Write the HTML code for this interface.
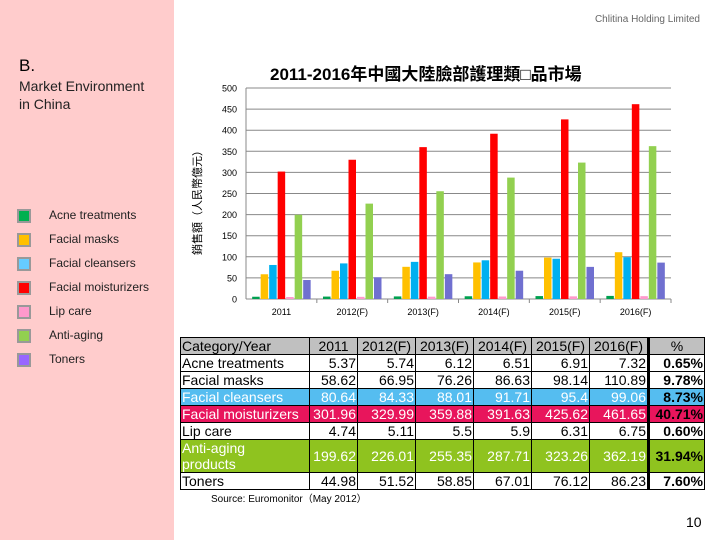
<!DOCTYPE html>
<html><head><meta charset="utf-8"><style>
body{margin:0;width:720px;height:540px;position:relative;background:#fff;font-family:"Liberation Sans","Noto Sans CJK TC",sans-serif;overflow:hidden}
.abs{position:absolute}
#left{left:0;top:0;width:174px;height:540px;background:#ffcccc}
.leg{position:absolute;left:17px;font-size:12px;color:#222}
.leg i{position:absolute;left:0;top:1px;width:10px;height:10px;border:2px solid #999}
.leg span{position:absolute;left:32px;top:0;white-space:nowrap}
table{position:absolute;left:180px;top:337px;border-collapse:collapse;font-size:14px;font-family:"Liberation Sans",sans-serif}
td{border:1px solid #000;padding:0 1px;height:16px;line-height:15px;text-align:right;white-space:nowrap}
td:first-child{text-align:left}
td.p{font-weight:bold;border-left:3px solid #000}
.hd td{background:#c0c0c0;text-align:center}
.hd td:first-child{text-align:left}
.cl td{background:#55bdf0;color:#fff}
.mo td{background:#e8155c;color:#fff}
.ag td{background:#8fc31f;color:#fff}
.cl td.p,.mo td.p,.ag td.p{color:#000}
</style></head><body>
<div id="left" class="abs"></div>
<div class="abs" style="right:20px;top:14px;font-size:10px;color:#666">Chlitina Holding Limited</div>
<div class="abs" style="left:19px;top:56px;font-size:17px">B.</div>
<div class="abs" style="left:19px;top:77px;font-size:14px;line-height:18px;color:#222">Market Environment<br>in China</div>
<div id="legend"></div>
<div class="abs" style="left:270px;top:60px;font-size:17px;font-weight:bold">2011-2016年中國大陸臉部護理類□品市場</div>
<div class="abs" style="left:117px;top:192px;width:160px;text-align:center;transform:rotate(-90deg);font-size:11px">銷售額（人民幣億元）</div>
<svg class="abs" style="left:0;top:0" width="720" height="330" id="chart"></svg>
<table>
<tr class="hd"><td style="width:126px">Category/Year</td><td style="width:45px">2011</td><td style="width:55px">2012(F)</td><td style="width:55px">2013(F)</td><td style="width:55px">2014(F)</td><td style="width:55px">2015(F)</td><td style="width:55px">2016(F)</td><td class="p" style="width:52px;font-weight:normal;text-align:center">%</td></tr>
<tr><td>Acne treatments</td><td>5.37</td><td>5.74</td><td>6.12</td><td>6.51</td><td>6.91</td><td>7.32</td><td class="p">0.65%</td></tr>
<tr><td>Facial masks</td><td>58.62</td><td>66.95</td><td>76.26</td><td>86.63</td><td>98.14</td><td>110.89</td><td class="p">9.78%</td></tr>
<tr class="cl"><td>Facial cleansers</td><td>80.64</td><td>84.33</td><td>88.01</td><td>91.71</td><td>95.4</td><td>99.06</td><td class="p">8.73%</td></tr>
<tr class="mo"><td>Facial moisturizers</td><td>301.96</td><td>329.99</td><td>359.88</td><td>391.63</td><td>425.62</td><td>461.65</td><td class="p">40.71%</td></tr>
<tr><td>Lip care</td><td>4.74</td><td>5.11</td><td>5.5</td><td>5.9</td><td>6.31</td><td>6.75</td><td class="p">0.60%</td></tr>
<tr class="ag"><td style="height:32px;line-height:16px">Anti-aging<br>products</td><td>199.62</td><td>226.01</td><td>255.35</td><td>287.71</td><td>323.26</td><td>362.19</td><td class="p">31.94%</td></tr>
<tr><td>Toners</td><td>44.98</td><td>51.52</td><td>58.85</td><td>67.01</td><td>76.12</td><td>86.23</td><td class="p">7.60%</td></tr>
</table>
<div class="abs" style="left:211px;top:490px;font-size:10px">Source: Euromonitor（May 2012）</div>
<div class="abs" style="left:686px;top:514px;font-size:14px">10</div>
<script>
const categories=["2011","2012(F)","2013(F)","2014(F)","2015(F)","2016(F)"];
const seriesNames=["Acne treatments","Facial masks","Facial cleansers","Facial moisturizers","Lip care","Anti-aging","Toners"];
const acne=[5.37,5.74,6.12,6.51,6.91,7.32];
const masks=[58.62,66.95,76.26,86.63,98.14,110.89];
const cleansers=[80.64,84.33,88.01,91.71,95.4,99.06];
const moisturizers=[301.96,329.99,359.88,391.63,425.62,461.65];
const lipcare=[4.74,5.11,5.5,5.9,6.31,6.75];
const antiaging=[199.62,226.01,255.35,287.71,323.26,362.19];
const toners=[44.98,51.52,58.85,67.01,76.12,86.23];
const yTicks=[0,50,100,150,200,250,300,350,400,450,500];
const series=[acne,masks,cleansers,moisturizers,lipcare,antiaging,toners];
const colors=["#00a050","#ffc000","#00b0f0","#ff0000","#ff99cc","#92d050","#7070d0"];
const legColors=["#00b050","#ffc000","#66ccff","#ff0000","#ff99cc","#92d050","#9966ff"];
const NS="http://www.w3.org/2000/svg";
const svg=document.getElementById('chart');
const x0=246,x1=671,y0=299,y1=88;
function Y(v){return y0-(v/500)*(y0-y1);}
const gw=(x1-x0)/categories.length;
function add(tag,a){const e=document.createElementNS(NS,tag);for(const k in a)e.setAttribute(k,a[k]);svg.appendChild(e);return e;}
yTicks.forEach(t=>{
 const l=add('line',{x1:x0,x2:x1,y1:Y(t),y2:Y(t),stroke:'#888','stroke-width':1});
 
 
 const tx=add('text',{x:x0-9,y:Y(t)+3.5,'text-anchor':'end','font-size':9,fill:'#000'});
 tx.textContent=t;
 
 
});
add('line',{x1:x0,x2:x0,y1:y1,y2:y0,stroke:'#888'});
categories.forEach((c,i)=>{
 const gx=x0+i*gw;
 const bw=7.5, start=gx+(gw-7*bw-6)/2;
 series.forEach((s,j)=>{
  const r=add('rect',{x:start+j*(bw+1),y:Y(s[i]),width:bw,height:y0-Y(s[i]),fill:colors[j]});
  
  
 });
 const t=add('text',{x:gx+gw/2,y:y0+16,'text-anchor':'middle','font-size':9});
 t.textContent=c;
 
 
 add('line',{x1:gx+gw,x2:gx+gw,y1:y0,y2:y0+4,stroke:'#888'});
});
const leg=document.getElementById('legend');
seriesNames.forEach((n,j)=>{
 const d=document.createElement('div');
 d.className='leg';
 d.style.top=(208+j*24)+'px';
 d.innerHTML='<i style="background:'+legColors[j]+'"></i><span>'+n+'</span>';
 
 
 leg.appendChild(d);
});
</script>
</body></html>
